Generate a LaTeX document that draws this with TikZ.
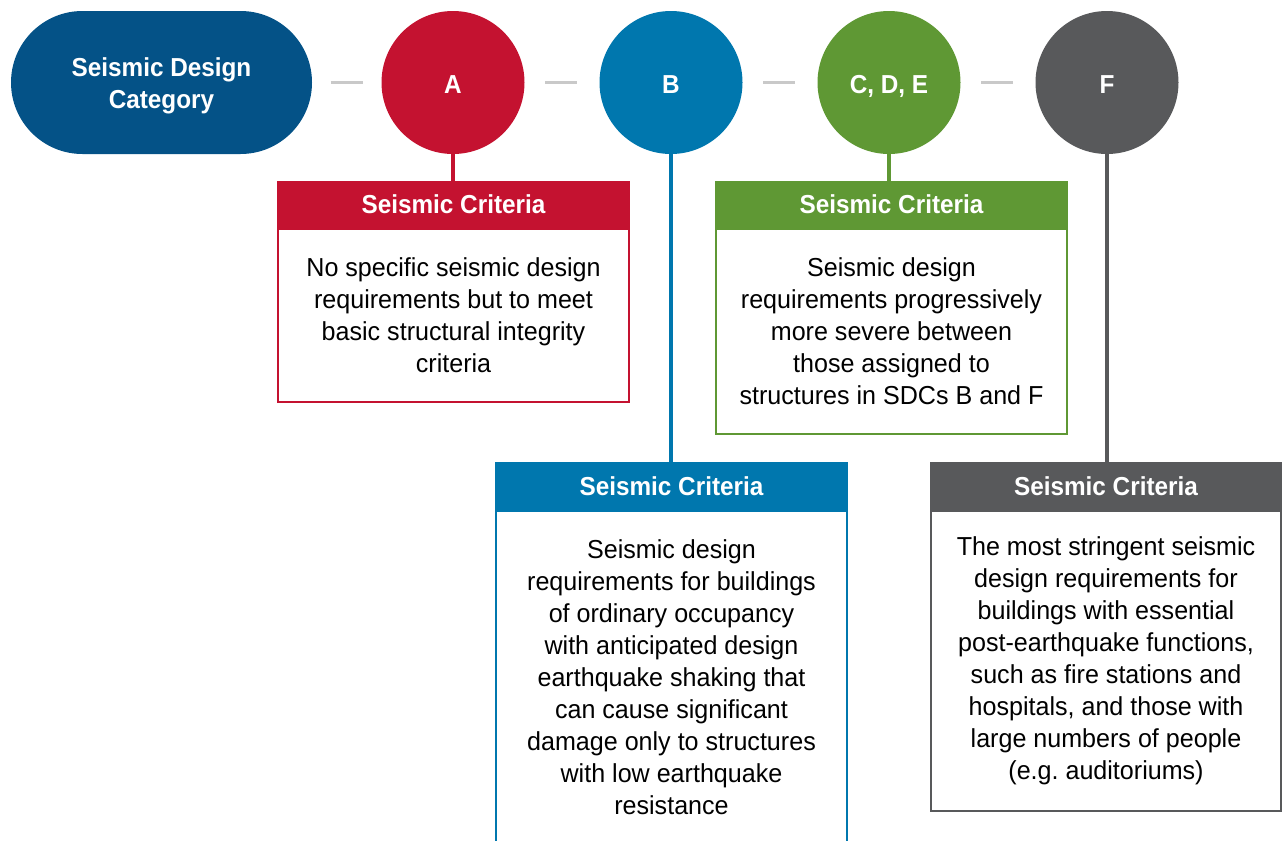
\documentclass[tikz,border=0pt]{standalone}
\usepackage{fontspec}
\setmainfont{Liberation Sans}[FakeStretch=0.965, BoldFeatures={FakeStretch=0.935}]
\definecolor{sdcblue}{HTML}{045287}
\definecolor{cred}{HTML}{C41230}
\definecolor{cblue}{HTML}{0077AE}
\definecolor{cgreen}{HTML}{5F9834}
\definecolor{cgray}{HTML}{58595B}
\definecolor{dashgray}{HTML}{C9C9C9}
\frenchspacing
\begin{document}
\begin{tikzpicture}[x=1pt,y=-1pt,
  bigfont/.style={font=\bfseries\fontsize{26}{32}\selectfont},
  pill/.style={fill=sdcblue, rounded corners=71.5pt, minimum width=301pt, minimum height=143pt, inner sep=0pt},
  pilltext/.style={bigfont, text=white, align=center, inner sep=0pt},
  cat/.style={bigfont, circle, fill=#1, minimum size=143pt, inner sep=0pt, text=white, text height=21pt, text depth=0pt},
  dashc/.style={draw=dashgray, line width=3pt},
  stem/.style={draw=#1, line width=4.5pt},
  head/.style={bigfont, draw=#1, fill=#1, line width=2pt, minimum width=351pt, inner sep=0pt, text=white},
  body/.style={draw=#1, fill=white, line width=2pt, minimum width=351pt, inner sep=0pt, align=center, font=\fontsize{26}{32}\selectfont},
]
\useasboundingbox (0,0) rectangle (1283,841);
\clip (0,0) rectangle (1283,841);

\node[pill] (sdc) at (161.5,82.5) {};
\node[pilltext] (sdctext) at ([yshift=-3.5pt]sdc.center) {Seismic Design\\Category};
\node[cat=cred] (A) at (453,82.5) {A};
\node[cat=cblue] (B) at (671,82.5) {B};
\node[cat=cgreen] (C) at (889,82.5) {C, D, E};
\node[cat=cgray] (F) at (1107,82.5) {F};

\draw[dashc, shorten <=18.5pt, shorten >=18pt] (sdc.east) -- (A.west);
\draw[dashc, shorten <=20.5pt, shorten >=22pt] (A.east) -- (B.west);
\draw[dashc, shorten <=20.5pt, shorten >=22pt] (B.east) -- (C.west);
\draw[dashc, shorten <=20.5pt, shorten >=22pt] (C.east) -- (F.west);

% Box A
\node[body=cred, minimum height=173pt] (bA) at (453.5,315.5)
  {No specific seismic design\\requirements but to meet\\basic structural integrity\\criteria};
\node[head=cred, minimum height=45pt] (hA) at (453.5,204.5) {Seismic Criteria};

% Box CDE
\node[body=cgreen, minimum height=205pt] (bC) at (891.5,331.5)
  {Seismic design\\requirements progressively\\more severe between\\those assigned to\\structures in SDCs B and F};
\node[head=cgreen, minimum height=45pt] (hC) at (891.5,204.5) {Seismic Criteria};

% Box B
\node[body=cblue, minimum height=332pt] (bB) at (671.5,677)
  {Seismic design\\requirements for buildings\\of ordinary occupancy\\with anticipated design\\earthquake shaking that\\can cause significant\\damage only to structures\\with low earthquake\\resistance};
\node[head=cblue, minimum height=46pt] (hB) at (671.5,486) {Seismic Criteria};

% Box F
\node[body=cgray, minimum width=350pt, minimum height=300pt] (bF) at (1106,661)
  {The most stringent seismic\\design requirements for\\buildings with essential\\post-earthquake functions,\\such as fire stations and\\hospitals, and those with\\large numbers of people\\(e.g. auditoriums)};
\node[head=cgray, minimum width=350pt, minimum height=46pt] (hF) at (1106,486) {Seismic Criteria};

\draw[stem=cred] (A.south) -- (A.south |- hA.north);
\draw[stem=cblue] (B.south) -- (B.south |- hB.north);
\draw[stem=cgreen] (C.south) -- (C.south |- hC.north);
\draw[stem=cgray] (F.south) -- (F.south |- hF.north);
\end{tikzpicture}
\end{document}
